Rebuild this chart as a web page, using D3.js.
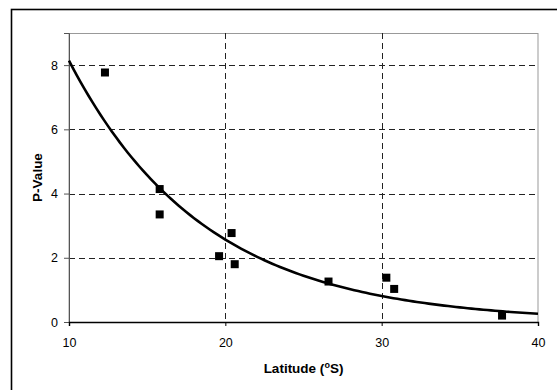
<!DOCTYPE html>
<html lang="en">
<head>
    <meta charset="UTF-8">
    <title>P-Value vs Latitude</title>
    <script src="https://d3js.org/d3.v7.min.js"></script>
    <style>
        body { margin: 0; background: #fff; }
        text { font-family: "Liberation Sans", Arial, sans-serif; fill: #000; }
        .lbl { font-size: 13.5px; font-weight: bold; }
    </style>
</head>
<body>
<svg width="557" height="390"></svg>
<script>
    // data
    const latitude = [12.3, 15.8, 15.8, 19.6, 20.4, 20.6, 26.6, 30.3, 30.8, 37.7];
    const pValue   = [7.77, 4.14, 3.35, 2.05, 2.77, 1.80, 1.26, 1.38, 1.03, 0.20];
    const xTicks = [10, 20, 30, 40];
    const yTicks = [0, 2, 4, 6, 8];

    const svg = d3.select('svg');
    const plotLeft = 69, plotRight = 538, plotTop = 33, plotBottom = 322;

    const x = d3.scaleLinear().domain([10, 40]).range([plotLeft, plotRight]);
    const y = d3.scaleLinear().domain([0, 9]).range([plotBottom, plotTop]);

    // outer chart frame (runs past right and bottom edges)
    svg.append('rect')
        .attr('x', 11.5).attr('y', 9.5)
        .attr('width', 600).attr('height', 450)
        .attr('fill', 'none').attr('stroke', '#000').attr('stroke-width', 1.6);

    // plot area border
    svg.append('rect')
        .attr('x', plotLeft).attr('y', plotTop + 0.5)
        .attr('width', plotRight - plotLeft).attr('height', plotBottom - plotTop)
        .attr('fill', 'none').attr('stroke', '#999').attr('stroke-width', 1);

    // gridlines
    const grid = svg.append('g')
        .attr('stroke', '#222').attr('stroke-width', 1).attr('stroke-dasharray', '6,4');
    grid.selectAll('line.h')
        .data(yTicks.filter(d => d > 0))
        .enter().append('line')
        .attr('x1', plotLeft).attr('x2', plotRight)
        .attr('y1', d => Math.round(y(d)) + 0.5).attr('y2', d => Math.round(y(d)) + 0.5);
    grid.selectAll('line.v')
        .data(xTicks.filter(d => d > 10 && d < 40))
        .enter().append('line')
        .attr('y1', plotTop).attr('y2', plotBottom)
        .attr('x1', d => Math.round(x(d)) + 0.5).attr('x2', d => Math.round(x(d)) + 0.5);

    // axes
    const yAxis = svg.append('g')
        .attr('transform', `translate(${plotLeft},0)`)
        .call(d3.axisLeft(y).tickValues(yTicks).tickSize(5).tickPadding(6));
    yAxis.select('.domain').attr('stroke', '#555');
    yAxis.selectAll('.tick line').attr('stroke', '#555');

    const xAxis = svg.append('g')
        .attr('transform', `translate(0,${plotBottom})`)
        .call(d3.axisBottom(x).tickValues(xTicks).tickSize(4).tickPadding(12));
    xAxis.select('.domain').attr('stroke', '#000').attr('stroke-width', 1.4);
    svg.selectAll('.tick text').style('font-size', '12.5px').style('font-family', '"Liberation Sans", Arial, sans-serif');

    // exponential trendline fitted to the points (least squares on ln y)
    const lnY = pValue.map(Math.log);
    const mx = d3.mean(latitude), my = d3.mean(lnY);
    const b = d3.sum(latitude, (v, i) => (v - mx) * (lnY[i] - my)) /
              d3.sum(latitude, v => (v - mx) * (v - mx));
    const a = Math.exp(my - b * mx);
    const curveX = d3.range(10, 40.01, 0.25);
    svg.append('path')
        .datum(curveX)
        .attr('fill', 'none').attr('stroke', '#000').attr('stroke-width', 2.6)
        .attr('d', d3.line().x(d => x(d)).y(d => y(a * Math.exp(b * d))));

    // markers
    const ms = 8;
    svg.selectAll('rect.pt')
        .data(latitude)
        .enter().append('rect')
        .attr('class', 'pt')
        .attr('x', d => x(d) - ms / 2)
        .attr('y', (d, i) => y(pValue[i]) - ms / 2)
        .attr('width', ms).attr('height', ms)
        .attr('fill', '#000');

    // axis titles
    svg.append('text')
        .attr('class', 'lbl')
        .attr('transform', `translate(42,${(plotTop + plotBottom) / 2}) rotate(-90)`)
        .attr('text-anchor', 'middle')
        .text('P-Value');

    const xt = svg.append('text')
        .attr('class', 'lbl')
        .attr('x', (plotLeft + plotRight) / 2).attr('y', 373)
        .attr('text-anchor', 'middle');
    xt.append('tspan').text('Latitude (');
    xt.append('tspan').attr('font-size', '9px').attr('dy', -5).text('o');
    xt.append('tspan').attr('dy', 5).text('S)');
</script>
</body>
</html>
